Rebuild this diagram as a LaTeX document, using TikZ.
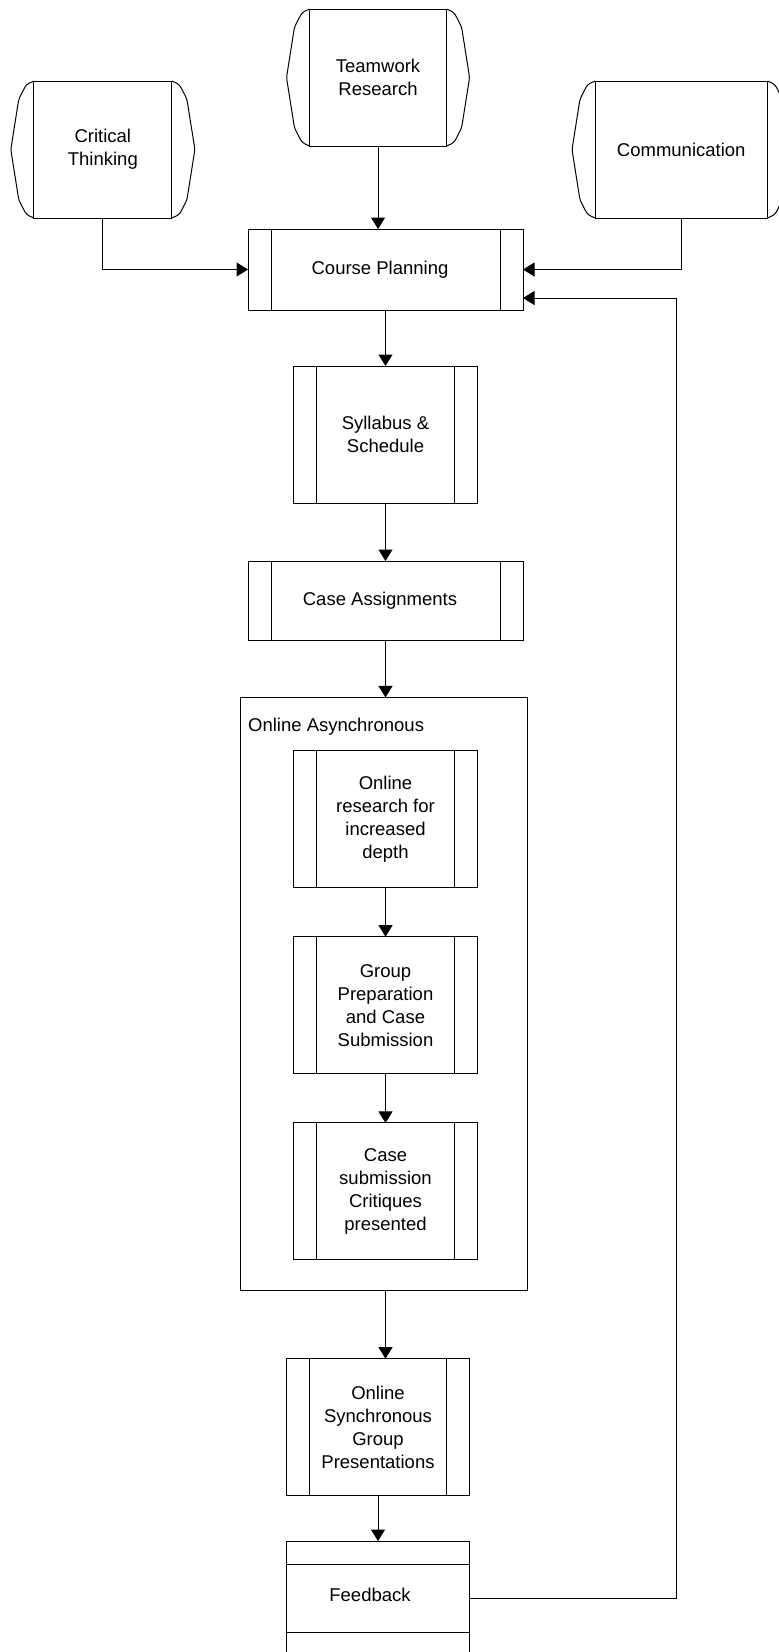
\documentclass[tikz,border=0pt]{standalone}
\usepackage{fontspec}
\setmainfont{Liberation Sans}
\usetikzlibrary{arrows.meta,calc}
\tikzset{
  base/.style={draw, rectangle, inner sep=0pt, outer sep=0pt, line width=1pt, align=center, font=\fontsize{18.5}{23}\selectfont},
  proc/.style={base, minimum width=183.6pt, minimum height=137pt,
    path picture={\draw[line width=1pt] ([xshift=23pt]path picture bounding box.north west) -- ([xshift=23pt]path picture bounding box.south west);
                  \draw[line width=1pt] ([xshift=-23pt]path picture bounding box.north east) -- ([xshift=-23pt]path picture bounding box.south east);}},
  wideproc/.style={proc, minimum width=275pt, minimum height=80pt},
  bulgebox/.style={base, minimum height=137pt},
  plain/.style={base, minimum width=183.4pt},
  group/.style={draw, rectangle, line width=1pt, inner sep=0pt, outer sep=0pt, minimum width=286.7pt, minimum height=593.5pt},
  conn/.style={line width=1pt, -{Triangle[length=11.5pt,width=14pt]}},
  line/.style={line width=1pt},
  sideline/.style={line width=1pt, rounded corners=3pt},
  lbl/.style={font=\fontsize{18.5}{23}\selectfont, inner sep=0pt}
}
\newcommand\bulgesides[1]{%
  \draw[sideline] (#1.north west) -- ($(#1.north west)+(-7.5,3.5)$) -- ($(#1.north west)+(-15,18)$)
    -- ($(#1.west)+(-23,0)$) -- ($(#1.south west)+(-15,-18)$) -- ($(#1.south west)+(-7.5,-3.5)$)
    -- (#1.south west);
  \draw[sideline] (#1.north east) -- ($(#1.north east)+(7.5,3.5)$) -- ($(#1.north east)+(15,18)$)
    -- ($(#1.east)+(23,0)$) -- ($(#1.south east)+(15,-18)$) -- ($(#1.south east)+(7.5,-3.5)$)
    -- (#1.south east);}
\begin{document}
\begin{tikzpicture}[x=1pt,y=-1pt]
\useasboundingbox (0,0) rectangle (779,1652);
\clip (0,0) rectangle (779,1652);
% top sources
\node[bulgebox, minimum width=138.1pt] (ct) at (102.85,149.5) {Critical\\Thinking};
\node[bulgebox, minimum width=137.1pt] (tw) at (378.05,77.5) {Teamwork\\Research};
\node[bulgebox, minimum width=172.5pt] (cm) at (681.25,149.5) {Communication};
\bulgesides{ct}
\bulgesides{tw}
\bulgesides{cm}
% main flow
\node[wideproc, minimum height=81pt] (cp) at (385.5,269.5) {Course Planning\hspace*{11pt}};
\node[proc] (ss) at (385.5,434.5) {Syllabus \&\\Schedule};
\node[wideproc, minimum height=79pt] (ca) at (385.5,600.5) {Case Assignments\hspace*{11pt}};
\node[group] (oa) at (383.65,994.15) {};
\node[lbl, anchor=base west] (oalbl) at (248,731) {Online Asynchronous};
\node[proc] (or) at (385.5,818.8) {Online\\research for\\increased\\depth};
\node[proc] (gp) at (385.5,1005.2) {Group\\Preparation\\and Case\\Submission};
\node[proc] (cs) at (385.5,1191.45) {Case\\submission\\Critiques\\presented};
\node[proc, minimum width=183.4pt] (os) at (378,1427.2) {Online\\Synchronous\\Group\\Presentations};
\node[plain, minimum height=115pt] (fb) at (378,1598.5) {\raisebox{6.5pt}{Feedback}\hspace*{16pt}};
\draw[line] ($(fb.north west)+(0,23.3)$) -- ($(fb.north east)+(0,23.3)$);
\draw[line] ($(fb.north west)+(0,91.7)$) -- ($(fb.north east)+(0,91.7)$);
\coordinate (ret) at (676,298);
% connectors
\draw[conn] (ct.south) |- (cp.west);
\draw[conn] (tw.south) -- (tw.south |- cp.north);
\draw[conn] (cm.south) |- (cp.east);
\draw[conn] (fb.east) -| (ret) -- (ret -| cp.east);
\draw[conn] (cp.south) -- (ss.north);
\draw[conn] (ss.south) -- (ca.north);
\draw[conn] (ca.south) -- (ca.south |- oa.north);
\draw[conn] (or.south) -- (gp.north);
\draw[conn] (gp.south) -- (cs.north);
\draw[conn] (cs.south |- oa.south) -- (cs.south |- os.north);
\draw[conn] (os.south) -- (fb.north);
\end{tikzpicture}
\end{document}
